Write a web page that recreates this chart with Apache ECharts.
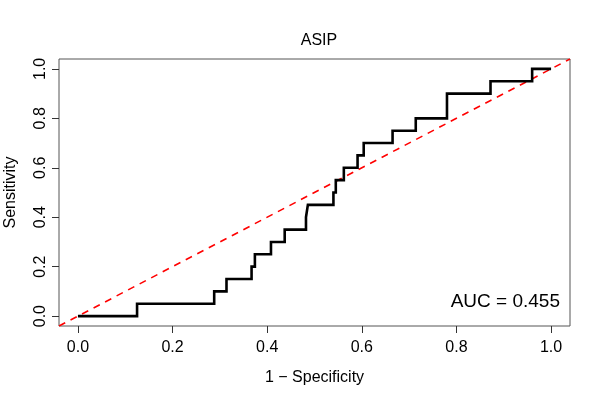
<!DOCTYPE html>
<html>
<head>
<meta charset="utf-8">
<script src="https://cdn.jsdelivr.net/npm/echarts@6/dist/echarts.min.js"></script>
<style>
  html, body { margin: 0; padding: 0; background: #fff; }
  #chart { width: 600px; height: 400px; }
</style>
</head>
<body>
<div id="chart"></div>
<script>
// ROC curve vertices
var fpr = [0, 0.125, 0.125, 0.288, 0.288, 0.314, 0.314, 0.367, 0.367, 0.374, 0.374,
           0.408, 0.408, 0.437, 0.437, 0.482, 0.482, 0.486, 0.486, 0.540, 0.540,
           0.545, 0.545, 0.562, 0.562, 0.591, 0.591, 0.604, 0.604, 0.665, 0.665,
           0.714, 0.714, 0.780, 0.780, 0.872, 0.872, 0.960, 0.960, 1.0];
var tpr = [0, 0, 0.05, 0.05, 0.10, 0.10, 0.15, 0.15, 0.20, 0.20, 0.25,
           0.25, 0.30, 0.30, 0.35, 0.35, 0.40, 0.40, 0.45, 0.45, 0.50,
           0.50, 0.55, 0.55, 0.60, 0.60, 0.65, 0.65, 0.70, 0.70, 0.75,
           0.75, 0.80, 0.80, 0.90, 0.90, 0.95, 0.95, 1.0, 1.0];
var diagX = [-0.04, 1.04];
var diagY = [-0.04, 1.04];
var tickVals = [0, 0.2, 0.4, 0.6, 0.8, 1.0];
var aucText = 'AUC = 0.455';

var FONT = 'Liberation Sans';

function zip(a, b) {
    var out = [];
    for (var i = 0; i < a.length; i++) out.push([a[i], b[i]]);
    return out;
}

var chart = echarts.init(document.getElementById('chart'), null, { renderer: 'canvas' });

var axisCommon = {
    type: 'value',
    min: -0.04,
    max: 1.04,
    splitLine: { show: false },
    axisLine: { show: false, onZero: false },
    axisTick: {
        show: true, inside: false, length: 7,
        customValues: tickVals,
        lineStyle: { color: '#333', width: 1 }
    },
    nameLocation: 'middle',
    nameTextStyle: { fontFamily: FONT, fontSize: 16, color: '#000' }
};

chart.setOption({
    animation: false,
    title: {
        text: 'ASIP',
        left: 314,
        top: 28,
        textAlign: 'center',
        textStyle: { fontFamily: FONT, fontSize: 16, fontWeight: 'normal', color: '#000' }
    },
    grid: {
        left: 59, right: 30, top: 59, bottom: 74,
        outerBoundsMode: 'none',
        containLabel: false,
        show: true,
        borderColor: '#555',
        borderWidth: 1,
        backgroundColor: 'transparent'
    },
    xAxis: Object.assign({}, axisCommon, {
        name: '1 \u2212 Specificity',
        nameGap: 44,
        axisLabel: {
            customValues: tickVals,
            margin: 14,
            fontFamily: FONT, fontSize: 16, color: '#000',
            formatter: function (v) { return v.toFixed(1); }
        }
    }),
    yAxis: Object.assign({}, axisCommon, {
        name: 'Sensitivity',
        nameGap: 40,
        axisLabel: {
            customValues: tickVals,
            rotate: 90,
            margin: 10,
            fontFamily: FONT, fontSize: 16, color: '#000',
            formatter: function (v) { return v.toFixed(1); }
        }
    }),
    graphic: [{
        type: 'text',
        right: 40,
        top: 292,
        style: { text: aucText, font: '19px "Liberation Sans"', fill: '#000' }
    }],
    series: [{
        type: 'line',
        data: zip(diagX, diagY),
        symbol: 'none',
        clip: true,
        silent: true,
        lineStyle: { color: '#ff0000', width: 1.6, type: [7, 6] },
        z: 2
    }, {
        type: 'line',
        data: zip(fpr, tpr),
        symbol: 'none',
        clip: true,
        lineStyle: { color: '#000', width: 2.6, cap: 'butt', join: 'miter' },
        z: 3
    }]
});
</script>
</body>
</html>
